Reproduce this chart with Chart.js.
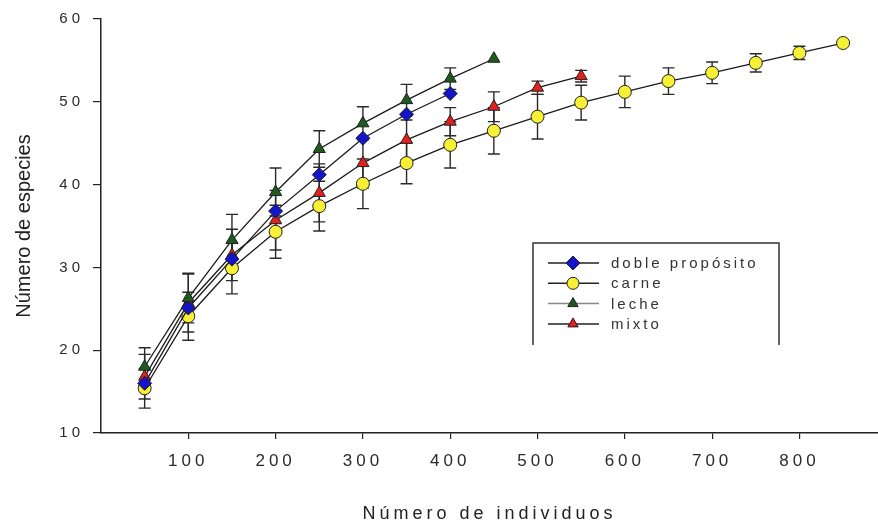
<!DOCTYPE html>
<html>
<head>
<meta charset="utf-8">
<title>Número de especies por número de individuos</title>
<script src="https://cdn.jsdelivr.net/npm/chart.js@4/dist/chart.umd.min.js"></script>
<style>
    html, body { margin: 0; padding: 0; background: #ffffff; }
    #wrap { width: 878px; height: 525px; position: relative; }
</style>
</head>
<body>
<div id="wrap"><canvas id="chart" width="878" height="525"></canvas></div>
<script>
const individuos = [50, 100, 150, 200, 250, 300, 350, 400, 450, 500, 550, 600, 650, 700, 750, 800, 850];

const dobleProposito = [16.0, 25.1, 31.0, 36.8, 41.2, 45.6, 48.5, 51.0];
const carne = [15.4, 24.1, 29.9, 34.3, 37.4, 40.1, 42.6, 44.8, 46.5, 48.2, 49.9, 51.2, 52.5, 53.5, 54.7, 55.9, 57.1];
const leche = [18.0, 26.3, 33.3, 39.1, 44.3, 47.4, 50.2, 52.8, 55.2];
const mixto = [16.8, 25.7, 31.5, 35.7, 39.0, 42.6, 45.4, 47.6, 49.4, 51.7, 53.1];

const carneError = [2.4, 2.9, 3.1, 3.2, 3.0, 3.0, 2.5, 2.8, 2.8, 2.7, 2.1, 1.9, 1.6, 1.3, 1.1, 0.8, 0];
const lecheError = [2.3, 3.0, 3.1, 2.9, 2.2, 2.0, 1.9, 1.3, 0];
const mixtoError = [2.7, 3.5, 3.1, 3.6, 3.5, 3.0, 2.4, 1.7, 1.8, 0.8, 0.7];

const xTicks = [100, 200, 300, 400, 500, 600, 700, 800];
const yTicks = [10, 20, 30, 40, 50, 60];

const FONT = "'Liberation Sans', Arial, sans-serif";

function toPoints(values)
{
    return values.map((v, i) => ({ x: individuos[i], y: v }));
}

function series(label, values, errors, style, radius, fill, legendLine)
{
    return {
        label: label,
        data: toPoints(values),
        errors: errors,
        legendLine: legendLine,
        borderColor: '#1a1a1a',
        borderWidth: 1.3,
        tension: 0,
        fill: false,
        clip: false,
        pointStyle: style,
        pointRadius: radius,
        pointHoverRadius: radius,
        pointBackgroundColor: fill,
        pointBorderColor: '#202020',
        pointBorderWidth: 1
    };
}

// spaced-out lettering like the original export
const spacingPlugin =
{
    id: 'spacing',
    beforeDraw(chart)
    {
        chart.ctx.letterSpacing = '4px';
    },
    afterDatasetsDraw(chart)
    {
        // y title is drawn after the datasets (grid z = 1), no spacing there
        chart.ctx.letterSpacing = '0px';
    }
};

const errorBarPlugin =
{
    id: 'errorBars',
    beforeDatasetsDraw(chart)
    {
        const ctx = chart.ctx;
        const xScale = chart.scales.x;
        const yScale = chart.scales.y;
        const cap = 6;

        ctx.save();
        ctx.strokeStyle = '#2a2a2a';
        ctx.lineWidth = 1.4;

        chart.data.datasets.forEach((ds) =>
        {
            if (!ds.errors)
            {
                return;
            }

            ds.data.forEach((pt, i) =>
            {
                const err = ds.errors[i];
                if (!err)
                {
                    return;
                }

                const px = xScale.getPixelForValue(pt.x);
                const top = yScale.getPixelForValue(pt.y + err);
                const bottom = yScale.getPixelForValue(pt.y - err);

                ctx.beginPath();
                ctx.moveTo(px, top);
                ctx.lineTo(px, bottom);
                ctx.moveTo(px - cap, top);
                ctx.lineTo(px + cap, top);
                ctx.moveTo(px - cap, bottom);
                ctx.lineTo(px + cap, bottom);
                ctx.stroke();
            });
        });

        ctx.restore();
    }
};

const boxLegendPlugin =
{
    id: 'boxLegend',
    afterDraw(chart)
    {
        const ctx = chart.ctx;
        const area = chart.chartArea;
        const left = area.left + 432;
        const top = area.top + 224;
        const width = 246;
        const height = 102;

        ctx.save();
        ctx.letterSpacing = '3px';
        ctx.strokeStyle = '#333333';
        ctx.lineWidth = 1.5;
        ctx.beginPath();
        ctx.moveTo(left, top + height);
        ctx.lineTo(left, top);
        ctx.lineTo(left + width, top);
        ctx.lineTo(left + width, top + height);
        ctx.stroke();

        ctx.font = '15px ' + FONT;
        ctx.textBaseline = 'middle';
        ctx.textAlign = 'left';

        chart.data.datasets.forEach((ds, i) =>
        {
            const y = top + 20 + i * 20.3;

            ctx.strokeStyle = ds.legendLine;
            ctx.lineWidth = 1.5;
            ctx.beginPath();
            ctx.moveTo(left + 15, y);
            ctx.lineTo(left + 66, y);
            ctx.stroke();

            ctx.fillStyle = ds.pointBackgroundColor;
            ctx.strokeStyle = ds.pointBorderColor;
            ctx.lineWidth = 1;
            Chart.helpers.drawPoint(ctx,
                {
                    pointStyle: ds.pointStyle,
                    radius: ds.pointStyle === 'rectRot' ? 7 : 6,
                    rotation: 0,
                    borderWidth: 1
                },
                left + 40, y);

            ctx.fillStyle = '#333333';
            ctx.fillText(ds.label, left + 78, y + 1);
        });

        ctx.restore();
    }
};

new Chart(
    document.getElementById('chart'),
    {
        type: 'line',
        data:
        {
            datasets:
            [
                series('doble propósito', dobleProposito, null, 'rectRot', 7, '#1414c8', '#222222'),
                series('carne', carne, carneError, 'circle', 6.5, '#f7f035', '#222222'),
                series('leche', leche, lecheError, 'triangle', 7, '#1d5a1d', '#888888'),
                series('mixto', mixto, mixtoError, 'triangle', 7, '#e0201c', '#222222')
            ]
        },
        options:
        {
            responsive: false,
            animation: false,
            layout: { autoPadding: false, padding: { top: 19, right: 0, bottom: 0, left: 0 } },
            plugins:
            {
                legend: { display: false },
                tooltip: { enabled: false }
            },
            scales:
            {
                x:
                {
                    type: 'linear',
                    min: 0,
                    max: 890,
                    afterBuildTicks: (scale) => { scale.ticks = xTicks.map((v) => ({ value: v })); },
                    afterFit: (scale) =>
                    {
                        scale.height = 92;
                        scale.paddingLeft = 0;
                        scale.paddingRight = 0;
                    },
                    grid: { drawOnChartArea: false, drawTicks: true, tickLength: 6, color: '#222222', lineWidth: 1.2 },
                    border: { display: true, color: '#222222', width: 1.5 },
                    ticks: { color: '#2a2a2a', padding: 12, maxRotation: 0, autoSkip: false, font: { family: FONT, size: 17 } },
                    title:
                    {
                        display: true,
                        text: 'Número de individuos',
                        color: '#222222',
                        padding: { top: 0, bottom: 0 },
                        font: { family: FONT, size: 18 }
                    }
                },
                y:
                {
                    type: 'linear',
                    min: 10,
                    max: 60,
                    afterBuildTicks: (scale) => { scale.ticks = yTicks.map((v) => ({ value: v })); },
                    afterFit: (scale) => { scale.width = 101; },
                    grid: { z: 1, drawOnChartArea: false, drawTicks: true, tickLength: 8, color: '#222222', lineWidth: 1.2 },
                    border: { z: 1, display: true, color: '#222222', width: 1.5 },
                    ticks: { color: '#2a2a2a', padding: 9, font: { family: FONT, size: 15 } },
                    title:
                    {
                        display: true,
                        text: 'Número de especies',
                        color: '#222222',
                        padding: { top: 12, bottom: 0 },
                        font: { family: FONT, size: 20 }
                    }
                }
            }
        },
        plugins: [spacingPlugin, errorBarPlugin, boxLegendPlugin]
    }
);
</script>
</body>
</html>
